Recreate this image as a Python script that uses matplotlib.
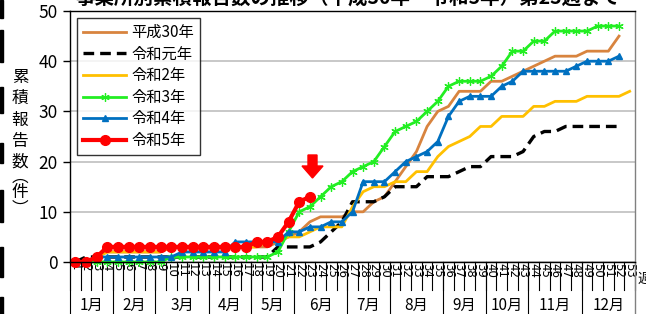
import matplotlib
matplotlib.use("Agg")
import matplotlib.pyplot as plt
from matplotlib.lines import Line2D
from matplotlib.patches import Polygon, Rectangle
import matplotlib.transforms as mtransforms

plt.rcParams['font.family'] = ['Noto Sans CJK JP', 'DejaVu Sans']

weeks = list(range(1, 54))
months = ['1月', '2月', '3月', '4月', '5月', '6月', '7月', '8月', '9月', '10月', '11月', '12月']
month_weeks = [4, 4, 5, 4, 4, 5, 4, 5, 4, 4, 5, 5]

h30 = [0, 0, 1, 2, 2, 2, 2, 2, 2, 3, 3, 3, 3, 3, 3, 3, 3, 3, 3, 4,
       5, 6, 8, 9, 9, 9, 10, 10, 12, 13, 16, 19, 22, 27, 30, 31, 34, 34, 34, 36,
       36, 37, 38, 39, 40, 41, 41, 41, 42, 42, 42, 45]
r1 = [0, 1, 1, 1, 1, 1, 1, 1, 1, 1, 1, 1, 1, 1, 1, 1, 1, 1, 1, 3,
      3, 3, 3, 4, 6, 8, 12, 12, 12, 13, 15, 15, 15, 17, 17, 17, 18, 19, 19, 21,
      21, 21, 22, 25, 26, 26, 27, 27, 27, 27, 27, 27]
r2 = [0, 0, 1, 2, 2, 2, 2, 2, 2, 3, 3, 3, 3, 3, 3, 3, 3, 3, 4, 4,
      5, 5, 6, 7, 7, 7, 11, 14, 15, 15, 16, 16, 18, 18, 21, 23, 24, 25, 27, 27,
      29, 29, 29, 31, 31, 32, 32, 32, 33, 33, 33, 33, 34]
r3 = [0, 0, 0, 0, 0, 0, 0, 0, 0, 1, 1, 1, 1, 1, 1, 1, 1, 1, 1, 2,
      6, 10, 11, 13, 15, 16, 18, 19, 20, 23, 26, 27, 28, 30, 32, 35, 36, 36, 36, 37,
      39, 42, 42, 44, 44, 46, 46, 46, 46, 47, 47, 47]
r4 = [0, 0, 1, 1, 1, 1, 1, 1, 1, 1, 2, 2, 2, 2, 2, 4, 4, 4, 4, 4,
      6, 6, 7, 7, 8, 8, 10, 16, 16, 16, 18, 20, 21, 22, 24, 29, 32, 33, 33, 33,
      35, 36, 38, 38, 38, 38, 38, 39, 40, 40, 40, 41]
r5 = [0, 0, 1, 3, 3, 3, 3, 3, 3, 3, 3, 3, 3, 3, 3, 3, 3, 4, 4, 5,
      8, 12, 13]

W, H = 646, 314
fig = plt.figure(figsize=(W / 100, H / 100), dpi=100)
ax = fig.add_axes([70 / W, (H - 262) / H, 565 / W, 251 / H])

ax.plot(weeks[:len(h30)], h30, color='#D8843F', lw=2.0, label='平成30年', clip_on=False)
ax.plot(weeks[:len(r1)], r1, color='black', lw=2.4, dashes=(3.2, 1.8), label='令和元年', clip_on=False)
ax.plot(weeks[:len(r2)], r2, color='#FFC000', lw=2.0, label='令和2年', clip_on=False)
ax.plot(weeks[:len(r3)], r3, color='#22EE22', lw=2.0, marker=(6, 2, 0), ms=6, mew=0.9,
        label='令和3年', clip_on=False)
ax.plot(weeks[:len(r4)], r4, color='#0070C0', lw=2.0, marker='^', ms=5, label='令和4年', clip_on=False)
ax.plot(weeks[:len(r5)], r5, color='#FF0000', lw=3.0, marker='o', ms=7, label='令和5年', clip_on=False)

ax.set_xlim(0.5, 53.5)
ax.set_ylim(0, 50)
ax.set_yticks(range(0, 51, 10))
ax.tick_params(axis='y', labelsize=12.5, length=5, width=1, direction='out', pad=4)
ax.yaxis.grid(True, color='#BFBFBF', lw=1.2)
ax.set_axisbelow(True)
for s in ax.spines.values():
    s.set_color('black')
    s.set_linewidth(1.0)
ax.spines['right'].set_color('#808080')

# week labels and category axis
ax.set_xticks(weeks)
ax.set_xticklabels([str(w) for w in weeks], rotation=-90, fontsize=8.5,
                   family=['DejaVu Sans'])
ax.tick_params(axis='x', length=0, pad=1)

trans = mtransforms.blended_transform_factory(ax.transData, ax.transAxes)
low1 = -28 / 251
low2 = -53 / 251
for w in range(0, 54):
    ax.add_line(Line2D([w + 0.5, w + 0.5], [0, low1], transform=trans, color='black', lw=0.8, clip_on=False))
start = 0
for m, n in zip(months, month_weeks):
    ax.add_line(Line2D([start + 0.5, start + 0.5], [0, low2], transform=trans, color='black', lw=0.8, clip_on=False))
    ax.text(start + 0.5 + n / 2, -43 / 251, m, transform=trans, ha='center', va='center', fontsize=11)
    start += n
ax.add_line(Line2D([53.5, 53.5], [0, low2], transform=trans, color='#808080', lw=1.0, clip_on=False))
fig.text(637 / W, 1 - 279 / H, '週', fontsize=10, va='center', ha='left')

leg = ax.legend(loc='upper left', bbox_to_anchor=(7 / 565, 1 - 7 / 251), borderaxespad=0,
                fontsize=11, frameon=True, fancybox=False, edgecolor='black', handlelength=2.8,
                labelspacing=0.3, borderpad=0.4, handletextpad=0.35)
leg.get_frame().set_linewidth(1.0)

# y label, written vertically
ylab = '累積報告数︵件︶'
ylab_pos = [77, 98.5, 120, 141.5, 162, 177, 193, 209]
for ch, yp in zip(ylab, ylab_pos):
    fig.text(20 / W, 1 - yp / H, ch, fontsize=12, ha='center', va='center')

# title, mostly cut off at the top edge as in the source
fig.text(75 / W, 1 - 4 / H, '事業所別累積報告数の推移（平成30年～令和5年）第23週まで',
         fontsize=14, ha='left', va='baseline', fontweight='bold')

# red arrow
pts = [(308, 155), (317, 155), (317, 166), (323, 166), (312.5, 178), (302, 166), (308, 166)]
fig.patches.append(Polygon([(x / W, 1 - y / H) for x, y in pts], closed=True,
                           transform=fig.transFigure, color='#FF0000'))

# left border fragments
for y0, y1 in [(0, 18), (30, 62), (87, 113), (143, 163), (190, 222), (247, 277), (297, 314)]:
    fig.patches.append(Rectangle((0, 1 - y1 / H), 3 / W, (y1 - y0) / H,
                                 transform=fig.transFigure, color='black'))

fig.savefig('out.png', dpi=100)
